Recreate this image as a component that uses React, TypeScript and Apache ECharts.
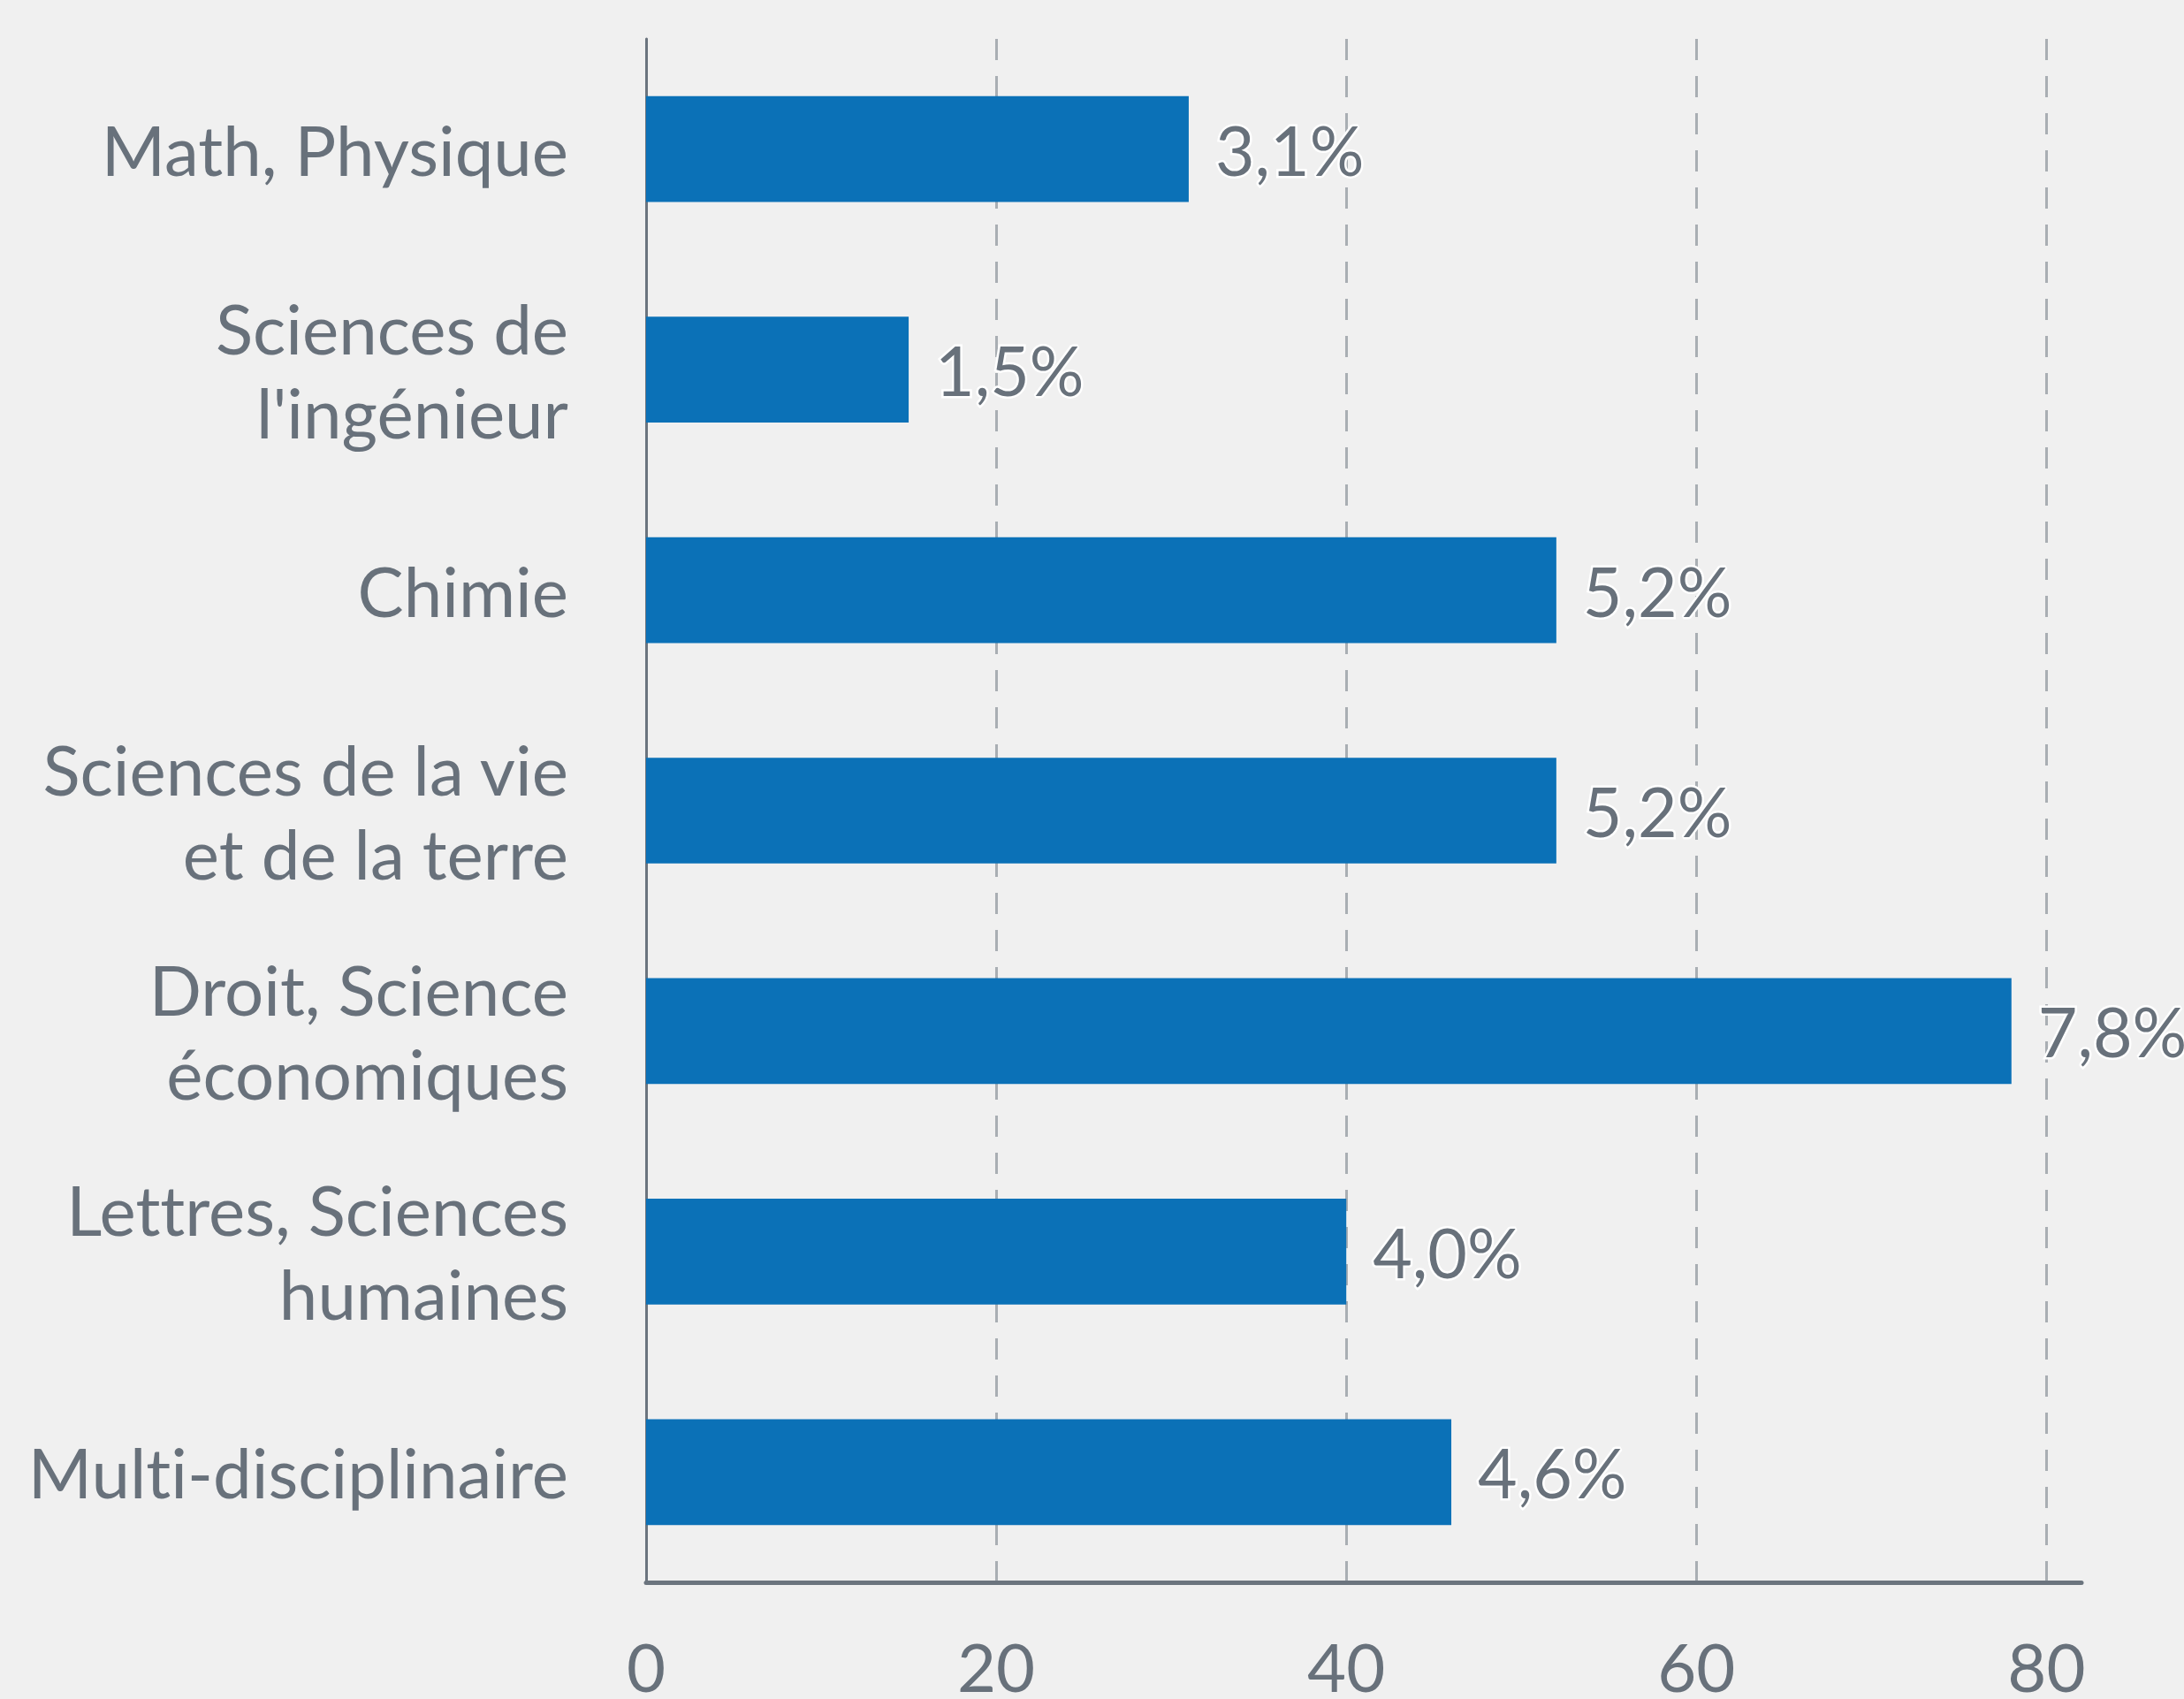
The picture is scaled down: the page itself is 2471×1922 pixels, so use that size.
import React, { useEffect, useRef } from "react";
import * as echarts from "echarts";

const categories = [
  "Math, Physique",
  "Sciences de\nl'ingénieur",
  "Chimie",
  "Sciences de la vie\net de la terre",
  "Droit, Science\néconomiques",
  "Lettres, Sciences\nhumaines",
  "Multi-disciplinaire",
];
const values = [31, 15, 52, 52, 78, 40, 46];
const valueLabels = ["3,1%", "1,5%", "5,2%", "5,2%", "7,8%", "4,0%", "4,6%"];

const TEXT = "#68717b";
const FONT = "Lato";

export default function App() {
  const ref = useRef<HTMLDivElement>(null);
  useEffect(() => {
    document.body.style.margin = "0";
    const chart = echarts.init(ref.current!, undefined, { renderer: "svg" });
    chart.setOption({
      animation: false,
      backgroundColor: "#f0f0f0",
      grid: { left: 731, right: 116, top: 44, bottom: 126, containLabel: false },
      xAxis: {
        type: "value",
        min: 0,
        max: 82,
        interval: 20,
        axisLine: { show: true, lineStyle: { color: "#6b747e", width: 5 } },
        axisTick: { show: false },
        axisLabel: {
          color: TEXT,
          fontFamily: FONT,
          fontSize: 76,
          margin: 56,
          showMaxLabel: false,
        },
        splitLine: {
          show: true,
          showMinLine: false,
          showMaxLine: false,
          lineStyle: { color: "#a9aeb3", width: 3, type: [24, 18] },
        },
      },
      yAxis: {
        type: "category",
        inverse: true,
        data: categories,
        axisLine: { show: true, lineStyle: { color: "#6b747e", width: 3 } },
        axisTick: { show: false },
        axisLabel: {
          color: TEXT,
          fontFamily: FONT,
          fontSize: 78,
          lineHeight: 95,
          margin: 88,
          align: "right",
        },
      },
      series: [
        {
          type: "bar",
          data: values,
          barCategoryGap: "52%",
          itemStyle: { color: "#0b71b7" },
          label: {
            show: true,
            position: "right",
            distance: 30,
            formatter: (p: any) => valueLabels[p.dataIndex],
            color: TEXT,
            fontFamily: FONT,
            fontSize: 77,
            textBorderColor: "#ffffff",
            textBorderWidth: 5,
          },
        },
      ],
    });
    return () => chart.dispose();
  }, []);
  return (
    <>
      <style>{"svg text { font-variant-ligatures: none; font-feature-settings: 'liga' 0, 'clig' 0; }"}</style>
      <div
        ref={ref}
        style={{ position: "fixed", left: 0, top: 0, width: 2471, height: 1922 }}
      />
    </>
  );
}
